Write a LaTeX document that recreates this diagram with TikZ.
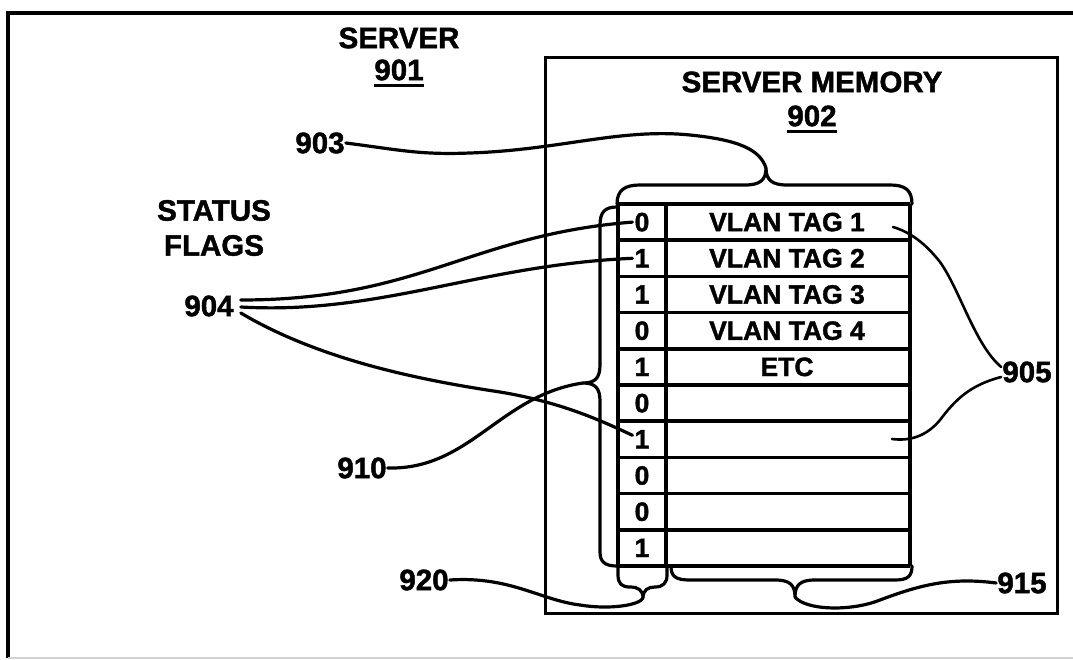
\documentclass[tikz,border=0pt]{standalone}
\usepackage{fontspec}
\setmainfont{Liberation Sans}[BoldFeatures={FakeBold=1.5}]
\usetikzlibrary{positioning,calc}
\tikzset{
  ttl/.style={font=\fontsize{29.5}{35}\selectfont\bfseries, align=center, inner sep=0pt},
  lbl/.style={font=\fontsize{29.5}{32}\selectfont\bfseries, inner sep=1pt},
  cell/.style={font=\fontsize{26.5}{28}\selectfont\bfseries, inner sep=2pt},
  lead/.style={line width=3.2pt, line cap=round},
  brace/.style={line width=3.2pt, line join=round, line cap=round},
  grid/.style={line width=3.5pt},
}

\begin{document}
\begin{tikzpicture}[x=1pt,y=-1pt]
    \useasboundingbox (0,0) rectangle (1073,660);

    % Outer frame (server)
    \draw[line width=4pt] (8,658) -- (8,13) -- (1073,13);
    \draw[gray!35,line width=1.5pt] (8,658) -- (1073,658);

    % Server memory box
    \draw[line width=3pt] (545,58) rectangle (1057,613);

    % Titles
    \node[ttl] (server) at (399,38) {SERVER};
    \node[ttl] (n901) at (399,70) {901};
    \draw[line width=3pt] ([yshift=-5pt]n901.south west) -- ([yshift=-5pt]n901.south east);
    \node[ttl] (memory) at (812,82) {SERVER MEMORY};
    \node[ttl] (n902) at (812,116) {902};
    \draw[line width=3pt] ([yshift=-5pt]n902.south west) -- ([yshift=-5pt]n902.south east);
    \node[ttl] (status) at (214,228) {STATUS\\FLAGS};

    % Table of flags and VLAN tags
    \foreach \i in {0,...,10}
        \draw[grid] (618,{204+36.2*\i}) -- (910,{204+36.2*\i});
    \draw[grid] (618,204) -- (618,566) (666,204) -- (666,566) (910,204) -- (910,566);
    \foreach \f [count=\i] in {0,1,1,0,1,0,1,0,0,1}
        \node[cell] (flag\i) at (642,{204+36.2*(\i-0.5)}) {\f};
    \foreach \t [count=\i] in {VLAN TAG 1,VLAN TAG 2,VLAN TAG 3,VLAN TAG 4,ETC}
        \node[cell] (tag\i) at (787,{204+36.2*(\i-0.5)}) {\t};

    % Braces
    \draw[brace] (617,204) .. controls (617,190) and (625,185) .. (640,185) -- (745,185)
        .. controls (760,185) and (766,180) .. (766,168) coordinate (tip903)
        .. controls (766,180) and (772,185) .. (787,185) -- (890,185)
        .. controls (905,185) and (912,190) .. (912,204);
    \draw[brace] (617,207) .. controls (605,207) and (600,212) .. (600,225) -- (600,365)
        .. controls (600,378) and (595,383) .. (583,383) coordinate (tip910)
        .. controls (595,383) and (600,388) .. (600,401) -- (600,552)
        .. controls (600,562) and (605,566) .. (617,566);
    \draw[brace] (618,566) -- (618,575) .. controls (618,584) and (622,587) .. (630,587)
        .. controls (638,587) and (643,590) .. (643,598) coordinate (tip920)
        .. controls (643,590) and (648,587) .. (655,587)
        .. controls (663,587) and (667,583) .. (667,575) -- (667,566);
    \draw[brace] (671,566) .. controls (671,576) and (675,580) .. (690,580) -- (775,580)
        .. controls (790,580) and (795,585) .. (795,597) coordinate (tip915)
        .. controls (795,585) and (800,580) .. (815,580) -- (895,580)
        .. controls (908,580) and (912,576) .. (912,566);

    % Reference numerals
    \node[lbl] (n903) at (320,143) {903};
    \node[lbl] (n904) at (209,306) {904};
    \node[lbl] (n910) at (362,468) {910};
    \node[lbl] (n920) at (424,580) {920};
    \node[lbl] (n915) at (1022,583) {915};
    \node[lbl] (n905) at (1027,372) {905};

    % Leaders
    \draw[lead] (n903.east) .. controls (400,150) and (420,155) .. (470,153)
        .. controls (560,150) and (620,128) .. (690,135)
        .. controls (740,140) and (760,150) .. (tip903);
    \coordinate (s904a) at ($(n904.east)+(6,-6)$);
    \coordinate (s904b) at ($(n904.east)+(6,1)$);
    \coordinate (s904c) at ($(n904.east)+(6,7)$);
    \draw[lead] (s904a) .. controls (420,300) and (470,235) .. (flag1.west);
    \draw[lead] (s904b) .. controls (380,315) and (480,265) .. (flag2.west);
    \draw[lead] (s904c) .. controls (320,360) and (420,380) .. (500,392)
        .. controls (560,402) and (600,420) .. ([yshift=4pt]flag7.west);
    \draw[lead] (n910.east) .. controls (470,470) and (500,395) .. (tip910);
    \draw[lead] (n920.east) .. controls (510,576) and (540,600) .. (580,605)
        .. controls (610,610) and (640,605) .. (tip920);
    \draw[lead] (tip915) .. controls (805,610) and (850,612) .. (880,600)
        .. controls (920,585) and (950,577) .. (n915.west);
    \coordinate (e905a) at (893,227);
    \coordinate (e905b) at (892,439);
    \draw[lead,line width=2.6pt] ([yshift=5pt]n905.west) .. controls (975,345) and (960,290) .. (940,262)
        .. controls (925,243) and (910,232) .. (e905a);
    \draw[lead,line width=2.6pt] ([yshift=-5pt]n905.west) .. controls (970,385) and (955,400) .. (940,420)
        .. controls (930,432) and (915,442) .. (e905b);
\end{tikzpicture}
\end{document}
